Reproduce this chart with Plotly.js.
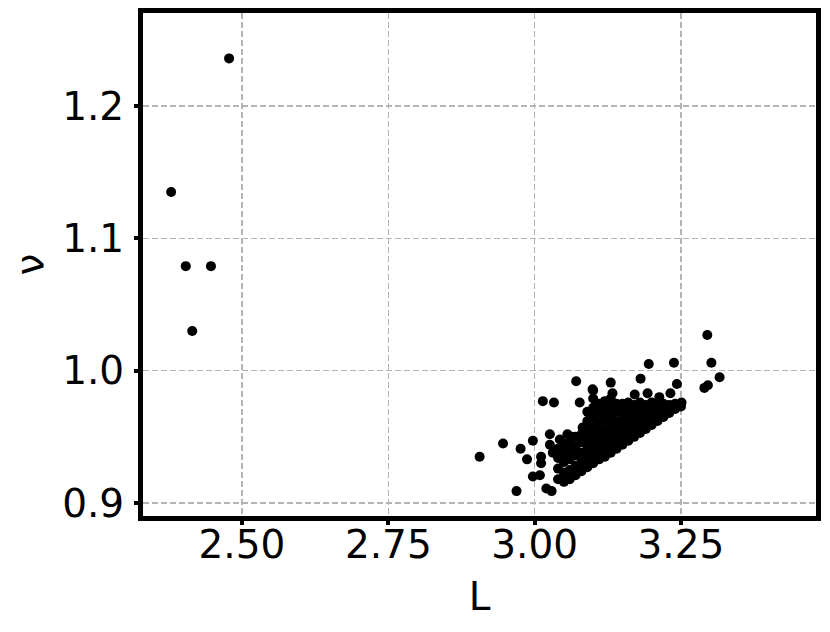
<!DOCTYPE html>
<html>
<head>
<meta charset="utf-8">
<script src="https://cdn.plot.ly/plotly-3.0.1.min.js"></script>
<style>
  html, body { margin: 0; padding: 0; background: #fff; }
  #plot { width: 830px; height: 632px; }
</style>
</head>
<body>
<div id="plot"></div>
<script>
// values
const L = [
  2.379, 2.478, 2.404, 2.447, 2.415,
  3.295, 3.302, 3.316, 3.290, 3.296, 3.195, 3.238, 3.243, 3.251, 3.181,
  3.071, 3.130, 3.014, 3.033, 3.077, 3.099, 3.133, 3.171, 3.193, 3.213, 3.232,
  2.906, 2.946, 2.976, 2.997, 2.987, 2.969, 2.997, 3.020, 3.029, 3.026,
  3.026, 3.011, 3.011, 3.009, 3.031, 3.043, 3.056, 3.082, 3.063,
  3.040, 3.040, 3.040, 3.040,
  3.050, 3.050, 3.050, 3.050, 3.050,
  3.060, 3.060, 3.060, 3.060, 3.060,
  3.070, 3.070, 3.070, 3.070, 3.070,
  3.080, 3.080, 3.080, 3.080, 3.080,
  3.090, 3.090, 3.090, 3.090, 3.090, 3.090, 3.090,
  3.100, 3.100, 3.100, 3.100, 3.100, 3.100, 3.100, 3.100, 3.100,
  3.110, 3.110, 3.110, 3.110, 3.110, 3.110, 3.110,
  3.120, 3.120, 3.120, 3.120, 3.120, 3.120, 3.120,
  3.130, 3.130, 3.130, 3.130, 3.130, 3.130, 3.130,
  3.140, 3.140, 3.140, 3.140, 3.140, 3.140,
  3.150, 3.150, 3.150, 3.150, 3.150, 3.150,
  3.160, 3.160, 3.160, 3.160, 3.160, 3.160,
  3.170, 3.170, 3.170, 3.170, 3.170,
  3.180, 3.180, 3.180, 3.180, 3.180,
  3.190, 3.190, 3.190, 3.190,
  3.200, 3.200, 3.200, 3.200,
  3.210, 3.210, 3.210,
  3.220, 3.220, 3.220,
  3.230, 3.230,
  3.240, 3.240,
  3.250
];
const nu = [
  1.135, 1.236, 1.079, 1.079, 1.030,
  1.027, 1.006, 0.995, 0.987, 0.989, 1.005, 1.006, 0.990, 0.976, 0.994,
  0.992, 0.991, 0.977, 0.976, 0.976, 0.986, 0.983, 0.982, 0.983, 0.980, 0.983,
  0.935, 0.945, 0.941, 0.947, 0.933, 0.909, 0.920, 0.911, 0.909, 0.952,
  0.944, 0.935, 0.930, 0.921, 0.938, 0.948, 0.952, 0.957, 0.950,
  0.918, 0.926, 0.934, 0.941,
  0.916, 0.923, 0.931, 0.938, 0.945,
  0.918, 0.925, 0.933, 0.940, 0.946,
  0.921, 0.928, 0.936, 0.943, 0.950,
  0.924, 0.931, 0.938, 0.946, 0.952,
  0.927, 0.934, 0.941, 0.948, 0.955, 0.962, 0.969,
  0.930, 0.937, 0.944, 0.951, 0.958, 0.965, 0.972, 0.979, 0.985,
  0.933, 0.940, 0.947, 0.954, 0.961, 0.968, 0.975,
  0.935, 0.942, 0.949, 0.956, 0.963, 0.970, 0.977,
  0.938, 0.945, 0.952, 0.959, 0.966, 0.972, 0.979,
  0.941, 0.948, 0.955, 0.962, 0.969, 0.975,
  0.944, 0.951, 0.957, 0.963, 0.969, 0.975,
  0.947, 0.953, 0.959, 0.965, 0.971, 0.976,
  0.950, 0.956, 0.962, 0.968, 0.974,
  0.953, 0.959, 0.965, 0.971, 0.976,
  0.956, 0.962, 0.968, 0.974,
  0.959, 0.965, 0.971, 0.976,
  0.962, 0.968, 0.974,
  0.965, 0.971, 0.975,
  0.968, 0.974,
  0.971, 0.975,
  0.973
];
const xTicks = [2.50, 2.75, 3.00, 3.25];
const xTickText = ['2.50', '2.75', '3.00', '3.25'];
const yTicks = [0.9, 1.0, 1.1, 1.2];
const yTickText = ['0.9', '1.0', '1.1', '1.2'];

const trace = {
  x: L,
  y: nu,
  type: 'scatter',
  mode: 'markers',
  marker: { color: '#000', size: 10, line: { width: 0 } },
  hoverinfo: 'x+y'
};

const axisCommon = {
  showline: true,
  linecolor: '#000',
  linewidth: 5,
  mirror: true,
  ticks: 'outside',
  ticklen: 4,
  tickwidth: 4,
  tickcolor: '#000',
  showgrid: true,
  gridcolor: '#b4b4b4',
  gridwidth: 1.5,
  griddash: '6px,3px',
  zeroline: false,
  tickfont: { size: 39, color: '#000' }
};

const layout = {
  width: 830,
  height: 632,
  margin: { l: 143, r: 14, t: 13, b: 116 },
  paper_bgcolor: '#fff',
  plot_bgcolor: '#fff',
  font: { family: 'DejaVu Sans, sans-serif', color: '#000' },
  showlegend: false,
  xaxis: Object.assign({}, axisCommon, {
    range: [2.3309, 3.4807],
    tickvals: xTicks,
    ticktext: xTickText,
    ticklabelstandoff: -14,
    title: { text: 'L', font: { size: 39 }, standoff: 18 }
  }),
  yaxis: Object.assign({}, axisCommon, {
    range: [0.8902, 1.2703],
    tickvals: yTicks,
    ticktext: yTickText,
    ticklabelstandoff: 2,
    title: { text: 'ν', font: { size: 39 }, standoff: 8 }
  })
};

Plotly.newPlot('plot', [trace], layout, { displayModeBar: false, staticPlot: true })
  .catch((error) => {
    console.error('Error rendering plot:', error);
  });
</script>
</body>
</html>
